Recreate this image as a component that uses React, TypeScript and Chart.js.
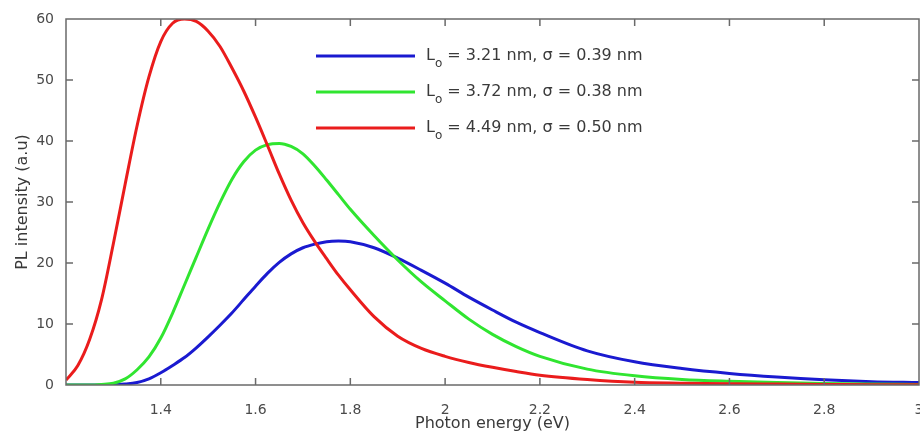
import React, { useEffect, useRef } from "react";
import { Chart, registerables } from "chart.js";

Chart.register(...registerables);

// Photon energy (eV)
const ENERGY = [
  1.2, 1.225, 1.25, 1.275, 1.3, 1.325, 1.35, 1.375, 1.4, 1.425, 1.45, 1.475, 1.5, 1.525, 1.55, 1.575,
  1.6, 1.625, 1.65, 1.675, 1.7, 1.725, 1.75, 1.775, 1.8, 1.85, 1.9, 1.95, 2.0, 2.05, 2.1, 2.15, 2.2,
  2.3, 2.4, 2.5, 2.6, 2.7, 2.8, 2.9, 3.0,
];

// PL intensity (a.u)
const BLUE_PL = [
  0, 0, 0, 0, 0.05, 0.15, 0.4, 1.0, 2.0, 3.2, 4.5, 6.1, 7.9, 9.8, 11.8, 14.0,
  16.2, 18.3, 20.1, 21.5, 22.5, 23.1, 23.5, 23.6, 23.5, 22.5, 20.8, 18.8, 16.7, 14.4, 12.3, 10.3, 8.6,
  5.6, 3.8, 2.7, 1.9, 1.3, 0.85, 0.55, 0.4,
];
const GREEN_PL = [
  0, 0, 0, 0.1, 0.3, 1.0, 2.5, 4.6, 7.7, 11.8, 16.4, 21.0, 25.6, 29.9, 33.7, 36.6,
  38.5, 39.4, 39.6, 39.1, 37.9, 35.9, 33.6, 31.2, 28.8, 24.5, 20.5, 16.9, 13.8, 10.8, 8.3, 6.3, 4.7,
  2.6, 1.5, 0.9, 0.6, 0.4, 0.25, 0.15, 0.1,
];
const RED_PL = [
  0.8, 3.2, 7.5, 14.0, 23.2, 33.0, 42.5, 50.5, 56.3, 59.3, 60.0, 59.6, 58.0, 55.5, 52.0, 48.2,
  43.9, 39.3, 34.6, 30.3, 26.6, 23.5, 20.7, 18.0, 15.6, 11.2, 8.0, 6.0, 4.7, 3.7, 2.9, 2.2, 1.6,
  0.9, 0.45, 0.3, 0.2, 0.15, 0.1, 0.05, 0.05,
];

const L_O = [3.21, 3.72, 4.49];
const SIGMA = [0.39, 0.38, 0.5];
const SERIES = [BLUE_PL, GREEN_PL, RED_PL];
const COLORS = ["#1a1ad0", "#30e530", "#ea1c1c"];

const FONT = "'DejaVu Sans', 'Liberation Sans', sans-serif";

const framePlugin = {
  id: "frame",
  afterDatasetsDraw(chart: any, _a: any, opts: any) {
    const { ctx, chartArea, scales } = chart;
    const { left, right, top, bottom } = chartArea;
    const x = scales.x;
    const y = scales.y;
    ctx.save();
    ctx.strokeStyle = opts.color;
    ctx.lineWidth = opts.width;
    ctx.strokeRect(left, top, right - left, bottom - top);
    const L = opts.tickLen;
    ctx.beginPath();
    x.ticks.forEach((t: any) => {
      const px = x.getPixelForValue(t.value);
      if (px <= left + 1 || px >= right - 1) return;
      ctx.moveTo(px, bottom);
      ctx.lineTo(px, bottom - L);
      ctx.moveTo(px, top);
      ctx.lineTo(px, top + L);
    });
    y.ticks.forEach((t: any) => {
      const py = y.getPixelForValue(t.value);
      if (py <= top + 1 || py >= bottom - 1) return;
      ctx.moveTo(left, py);
      ctx.lineTo(left + L, py);
      ctx.moveTo(right, py);
      ctx.lineTo(right - L, py);
    });
    ctx.stroke();
    ctx.restore();
  },
};

const subLegendPlugin = {
  id: "subLegend",
  afterDraw(chart: any, _a: any, opts: any) {
    const ctx = chart.ctx;
    const { x, y, gap, lineLen, textGap, size, subSize, subDrop, color } = opts;
    chart.data.datasets.forEach((ds: any, i: number) => {
      const yy = y + i * gap;
      ctx.save();
      ctx.strokeStyle = ds.borderColor;
      ctx.lineWidth = ds.borderWidth;
      ctx.beginPath();
      ctx.moveTo(x, yy);
      ctx.lineTo(x + lineLen, yy);
      ctx.stroke();
      const m = /^(\S)_(\S)(.*)$/.exec(ds.label);
      ctx.fillStyle = color;
      ctx.textBaseline = "middle";
      let tx = x + lineLen + textGap;
      if (m) {
        ctx.font = `${size}px ${FONT}`;
        ctx.fillText(m[1], tx, yy);
        tx += ctx.measureText(m[1]).width;
        ctx.font = `${subSize}px ${FONT}`;
        ctx.fillText(m[2], tx, yy + subDrop);
        tx += ctx.measureText(m[2]).width;
        ctx.font = `${size}px ${FONT}`;
        ctx.fillText(m[3], tx, yy);
      } else {
        ctx.font = `${size}px ${FONT}`;
        ctx.fillText(ds.label, tx, yy);
      }
      ctx.restore();
    });
  },
};

export default function App() {
  const ref = useRef<HTMLCanvasElement | null>(null);

  useEffect(() => {
    document.body.style.margin = "0";
    const canvas = ref.current;
    if (!canvas) return;
    const datasets = SERIES.map((vals, i) => ({
      label: `L_o = ${L_O[i].toFixed(2)} nm, σ = ${SIGMA[i].toFixed(2)} nm`,
      data: ENERGY.map((e, k) => ({ x: e, y: vals[k] })),
      borderColor: COLORS[i],
      backgroundColor: COLORS[i],
      borderWidth: 3,
      pointRadius: 0,
      cubicInterpolationMode: "monotone" as const,
      fill: false,
      order: 3 - i,
    }));
    const chart = new Chart(canvas, {
      type: "line",
      data: { datasets },
      plugins: [framePlugin, subLegendPlugin],
      options: {
        animation: false,
        responsive: false,
        devicePixelRatio: 1,
        layout: { padding: { top: 19, right: 21, left: 0, bottom: 0 } },
        plugins: {
          legend: { display: false },
          tooltip: { enabled: false },
          frame: { color: "#6a6a6a", width: 1.5, tickLen: 7 },
          subLegend: {
            x: 316,
            y: 56,
            gap: 36,
            lineLen: 99,
            textGap: 11,
            size: 16,
            subSize: 12,
            subDrop: 8,
            color: "#3a3a3a",
          },
        } as any,
        scales: {
          x: {
            type: "linear",
            min: 1.2,
            max: 3.0,
            grid: { display: false },
            border: { display: false },
            ticks: {
              stepSize: 0.2,
              padding: 9,
              color: "#4a4a4a",
              font: { family: FONT, size: 14 },
              maxRotation: 0,
              callback: (v: any) =>
                Math.abs(Number(v) - 1.2) < 1e-6 ? "" : String(parseFloat(Number(v).toFixed(1))),
            },
            title: {
              display: true,
              text: "Photon energy (eV)",
              color: "#3a3a3a",
              font: { family: FONT, size: 16, lineHeight: 1 },
              padding: { top: 0, bottom: 0 },
            },
            afterFit: (s: any) => {
              s.height = 47;
            },
          },
          y: {
            type: "linear",
            min: 0,
            max: 60,
            grid: { display: false },
            border: { display: false },
            ticks: {
              stepSize: 10,
              padding: 4,
              color: "#4a4a4a",
              font: { family: FONT, size: 14 },
            },
            title: {
              display: true,
              text: "PL intensity (a.u)",
              color: "#3a3a3a",
              font: { family: FONT, size: 16, lineHeight: 1 },
              padding: { top: 15, bottom: 0 },
            },
            afterFit: (s: any) => {
              s.width = 66;
            },
          },
        },
      } as any,
    });
    return () => chart.destroy();
  }, []);

  return (
    <div style={{ width: 920, height: 432, overflow: "hidden", position: "relative", background: "#fff" }}>
      <canvas ref={ref} width={940} height={432} style={{ display: "block", width: 940, height: 432 }} />
    </div>
  );
}
